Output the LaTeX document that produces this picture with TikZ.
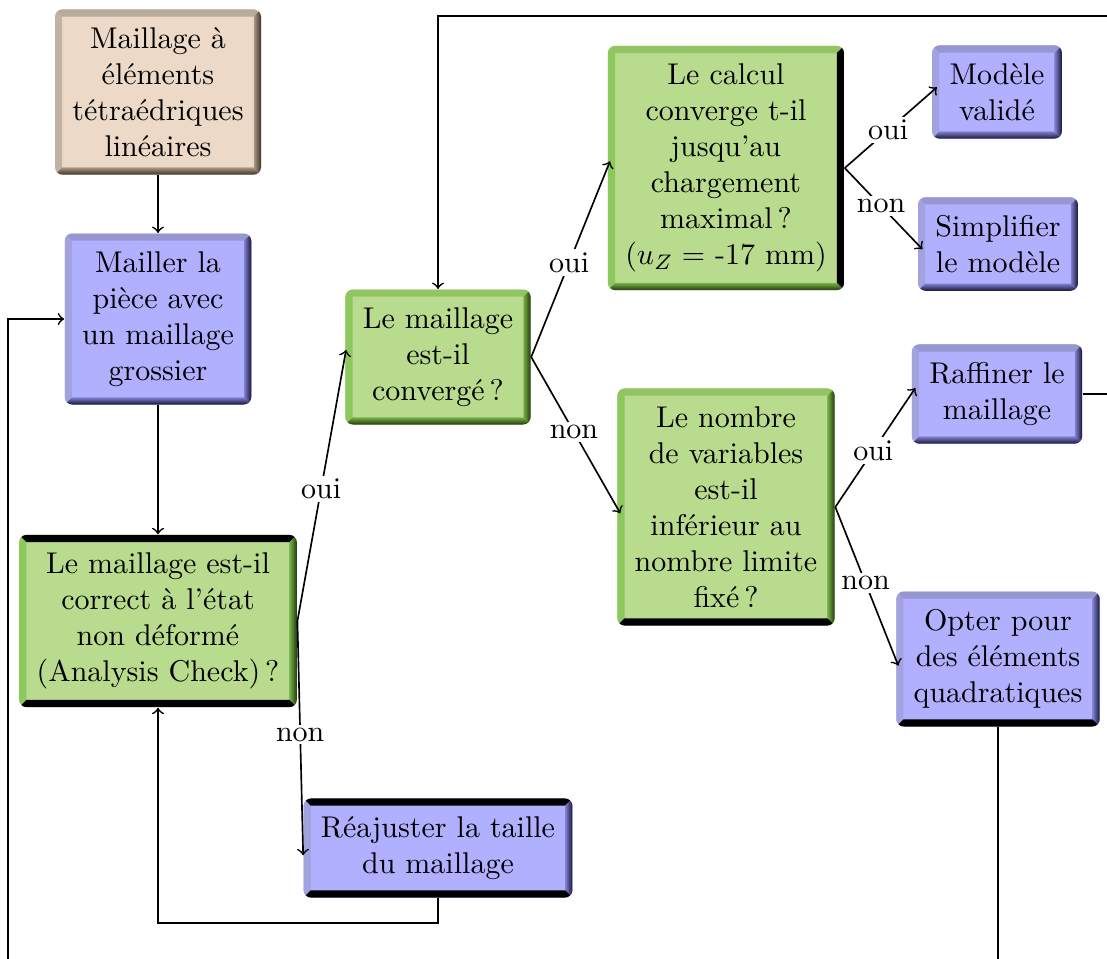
\documentclass[tikz,border=0pt]{standalone}
\usepackage{tikz}
\usetikzlibrary{calc,positioning}

\definecolor{bfill}{RGB}{176,176,255}
\definecolor{bleft}{RGB}{162,162,222}
\definecolor{btop}{RGB}{150,150,208}
\definecolor{bmid}{RGB}{128,128,205}
\definecolor{bdark}{RGB}{22,22,58}
\definecolor{gfill}{RGB}{185,219,141}
\definecolor{gleft}{RGB}{140,200,92}
\definecolor{gtop}{RGB}{146,196,100}
\definecolor{gmid}{RGB}{118,176,70}
\definecolor{gdark}{RGB}{34,58,14}
\definecolor{tfill}{RGB}{236,217,199}
\definecolor{tleft}{RGB}{192,178,164}
\definecolor{ttop}{RGB}{184,170,156}
\definecolor{tmid}{RGB}{170,152,136}
\definecolor{tdark}{RGB}{62,50,40}

\begin{document}
\begin{tikzpicture}[x=0.3333pt,y=-0.3333pt,
  bevel/.style={rectangle, rounded corners=2.5pt, align=center, inner xsep=5.8pt, inner ysep=6pt,
    path picture={
      \def\bw{2.4pt}
      \path (path picture bounding box.north west) coordinate (bnw)
            (path picture bounding box.north east) coordinate (bne)
            (path picture bounding box.south west) coordinate (bsw)
            (path picture bounding box.south east) coordinate (bse);
      \path[sharp corners,bev left] (bnw) -- (bsw) -- ([shift={(\bw,\bw)}]bsw) -- ([shift={(\bw,-\bw)}]bnw) -- cycle;
      \path[sharp corners,bev top] (bnw) -- (bne) -- ([shift={(-\bw,-\bw)}]bne) -- ([shift={(\bw,-\bw)}]bnw) -- cycle;
      \path[sharp corners,bev right] (bne) -- (bse) -- ([shift={(-\bw,\bw)}]bse) -- ([shift={(-\bw,-\bw)}]bne) -- cycle;
      \path[sharp corners,bev bottom] (bsw) -- (bse) -- ([shift={(-\bw,\bw)}]bse) -- ([shift={(\bw,\bw)}]bsw) -- cycle;
    }},
  bluebox/.style={bevel, fill=bfill, bev left/.style={fill=bleft}, bev top/.style={fill=btop},
    bev right/.style={left color=bmid, right color=bdark}, bev bottom/.style={top color=bmid, bottom color=bdark}},
  greenbox/.style={bevel, fill=gfill, bev left/.style={fill=gleft}, bev top/.style={fill=gtop},
    bev right/.style={left color=gmid, right color=gdark}, bev bottom/.style={top color=gmid, bottom color=gdark}},
  tanbox/.style={bevel, fill=tfill, bev left/.style={fill=tleft}, bev top/.style={fill=ttop},
    bev right/.style={left color=tmid, right color=tdark}, bev bottom/.style={top color=tmid, bottom color=tdark}},
  blacktop/.style={bev top/.style={fill=black}},
  blackright/.style={bev right/.style={fill=black}},
  blackbottom/.style={bev bottom/.style={fill=black}},
  link/.style={->, line width=0.55pt},
  lbl/.style={fill=white, inner sep=1pt}]

\useasboundingbox (0,0) rectangle (1107,958);
\clip (0,0) rectangle (1107,958);

% left column
\node[tanbox] (tetra) at (158,92) {Maillage à\\éléments\\tétraédriques\\linéaires};
\node[bluebox] (grossier) at (158,319) {Mailler la\\pièce avec\\un maillage\\grossier};
\node[greenbox,blacktop,blackbottom] (check) at (158,621) {Le maillage est-il\\correct à l'état\\non déformé\\(Analysis Check)\,?};
\node[bluebox,blacktop,blackbottom] (reajust) at (438,848) {Réajuster la taille\\du maillage};

% middle
\node[greenbox] (converge) at (438,357) {Le maillage\\est-il\\convergé\,?};
\node[greenbox,blackright] (calcul) at (726,168) {Le calcul\\converge t-il\\jusqu'au\\chargement\\maximal\,?\\($u_Z =$ -17 mm)};
\node[greenbox,blackbottom] (nbvar) at (726,507) {Le nombre\\de variables\\est-il\\inférieur au\\nombre limite\\fixé\,?};

% right column
\node[bluebox] (valide) at (997,92) {Modèle\\validé};
\node[bluebox] (simplif) at (998,244) {Simplifier\\le modèle};
\node[bluebox] (raffine) at (997,394) {Raffiner le\\maillage};
\node[bluebox,blackbottom] (quadra) at (998,659) {Opter pour\\des éléments\\quadratiques};

% straight links
\draw[link] (tetra.south) -- (grossier.north);
\draw[link] (grossier.south) -- (check.north);
\draw[link] (reajust.south) -- ++(0,25) -| (check.south);

% yes / no branches
\foreach \a/\b/\c in {check/converge/oui, check/reajust/non, converge/calcul/oui, converge/nbvar/non,
                      calcul/valide/oui, calcul/simplif/non, nbvar/raffine/oui, nbvar/quadra/non}
  \draw[link, shorten >=-2.4pt] (\a.east) -- node[lbl] {\c} (\b.west);

% loops going out of the frame
\coordinate (hautdroit) at (1140,16);
\coordinate (basgauche) at (8,1000);
\draw[link] (raffine.east) -| (hautdroit) -| (converge.north);
\draw[link] (quadra.south) |- (basgauche) |- (grossier.west);

\end{tikzpicture}
\end{document}
